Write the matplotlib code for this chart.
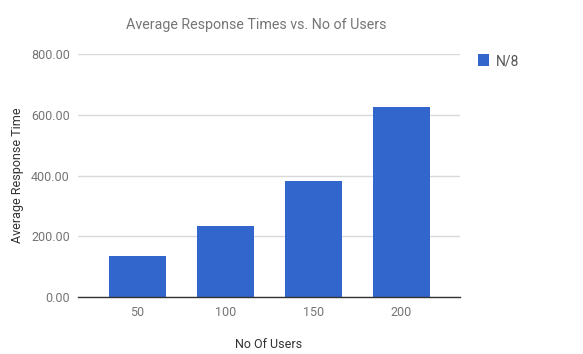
import matplotlib
matplotlib.use("Agg")
import matplotlib.pyplot as plt

plt.rcParams['font.family'] = ['Roboto', 'DejaVu Sans']

# data
users = ["50", "100", "150", "200"]
response_times = [137, 236, 382, 624]
series_name = "N/8"

BAR_COLOR = "#3366cc"
GREY = "#757575"

fig = plt.figure(figsize=(5.83, 3.54), dpi=100, facecolor="white")
ax = fig.add_axes([0.134, 0.160, 0.655, 0.688])

x = list(range(len(users)))
ax.bar(x, response_times, width=0.65, color=BAR_COLOR, zorder=3,
       label=series_name)

ax.set_xlim(-0.675, 3.665)
ax.set_ylim(0, 800)
yticks = [0, 200, 400, 600, 800]
ax.set_yticks(yticks)
ax.set_yticklabels([f"{v:.2f}" for v in yticks])
ax.set_xticks(x)
ax.set_xticklabels(users)

ax.grid(axis="y", color="#d9d9d9", linewidth=1, zorder=0)
for side in ["top", "right", "left"]:
    ax.spines[side].set_visible(False)
ax.spines["bottom"].set_color("#333333")
ax.spines["bottom"].set_linewidth(1)
ax.spines["bottom"].set_zorder(4)
ax.tick_params(axis="both", length=0, labelsize=9, colors=GREY)
ax.tick_params(axis="x", pad=6)
ax.tick_params(axis="y", pad=6)

ax.set_xlabel("No Of Users", fontsize=9, color="#333333", labelpad=14)
ax.set_ylabel("Average Response Time", fontsize=9, color="#333333", labelpad=5)

fig.text(0.44, 1 - 25 / 354, "Average Response Times vs. No of Users",
         ha="center", va="center", fontsize=10.3, color=GREY)

ax.legend(loc="upper left", bbox_to_anchor=(1.015, 1.05), frameon=False,
          fontsize=10, handlelength=0.75, handleheight=0.95,
          handletextpad=0.5, labelcolor="#555555")

fig.savefig("out.png", dpi=100, facecolor="white")
